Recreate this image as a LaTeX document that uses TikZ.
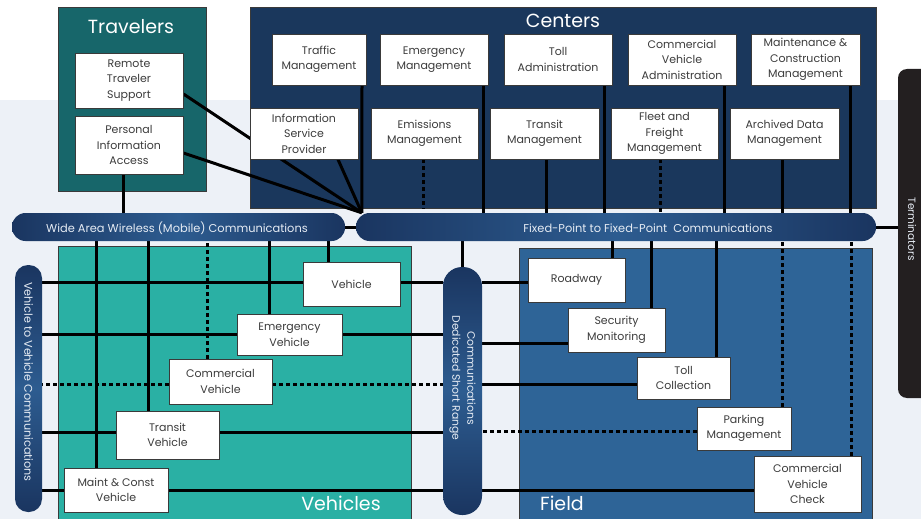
\documentclass[tikz,border=0pt]{standalone}
\usepackage{fontspec}
\setmainfont{Poppins}
\usetikzlibrary{calc}
\pgfdeclarelayer{bg}
\pgfdeclarelayer{wires}
\pgfsetlayers{bg,wires,main}
\definecolor{travc}{HTML}{17666A}
\definecolor{ctrc}{HTML}{1A375C}
\definecolor{vehc}{HTML}{2AB0A4}
\definecolor{fieldc}{HTML}{2E6497}
\definecolor{bardark}{HTML}{1A3560}
\definecolor{barlight}{HTML}{2D5C90}
\definecolor{termc}{HTML}{231F20}
\definecolor{bgblue}{HTML}{EDF1F7}
\definecolor{boxtext}{HTML}{3C3C3C}
\definecolor{edgec}{HTML}{3A3A3A}
\definecolor{bartext}{HTML}{E6ECF4}
\newcommand\bxf{\fontsize{11}{15.5}\selectfont}
\newcommand\ttf{\fontsize{19}{22}\selectfont}
\newcommand\brf{\fontsize{11.4}{13}\selectfont}
\begin{document}
\begin{tikzpicture}[x=1pt,y=-1pt,
  sec/.style={draw=edgec, line width=1pt, inner sep=0pt},
  wbox/.style={draw=edgec, line width=0.9pt, fill=white, text=boxtext, align=center, inner sep=1pt, font=\bxf},
  wh/.style 2 args={minimum width=#1, minimum height=#2},
  title/.style={text=white, font=\ttf, inner sep=0pt},
  hbar/.style={draw=none, left color=bardark, right color=bardark, middle color=barlight, text=bartext, font=\brf, inner sep=0pt, rounded corners=13.5pt},
  vbar/.style={draw=none, top color=bardark, bottom color=bardark, middle color=barlight, inner sep=0pt},
  barlabel/.style={text=bartext, inner sep=0pt},
  wire/.style={line width=3pt, black},
  dots/.style={wire, dash pattern=on 4pt off 3pt}]
\useasboundingbox (0,0) rectangle (921,519);
\clip (0,0) rectangle (921,519);

\begin{pgfonlayer}{bg}
\fill[bgblue] (0,100) rectangle (921,519);
\node[sec, fill=travc, wh={148}{183}] (Trav) at (132,99.5) {};
\node[sec, fill=ctrc, wh={626}{200}] (Ctr) at (563,108) {};
\node[sec, fill=vehc, wh={353}{279}] (Vehs) at (234.5,385.5) {};
\node[sec, fill=fieldc, wh={353}{277}] (Fld) at (695.5,386.5) {};
\node[draw=none, fill=termc, rounded corners=9pt, wh={37}{329}, inner sep=0pt] (Term) at (916.5,233.5) {};
\end{pgfonlayer}

% titles
\node[title] (travT) at (131,27) {Travelers};
\node[title] (ctrT) at (563,21) {Centers};
\node[title] (vehT) at (341,503) {Vehicles};
\node[title] (fldT) at (562,503) {Field};
\node[barlabel, font=\fontsize{10.5}{13}\selectfont, rotate=-90] (termT) at (912,229) {Terminators};

% bars
\node[hbar, wh={333}{28}] (WA) at (178.5,227) {};
\node[barlabel, font=\brf] (WAT) at (177,228) {Wide Area Wireless (Mobile) Communications};
\node[hbar, wh={520}{28}] (FP) at (616,227) {};
\node[barlabel, font=\brf] (FPT) at (648,228) {Fixed-Point to Fixed-Point\ \ Communications};
\node[vbar, rounded corners=13pt, wh={27}{247}] (V2V) at (28.5,388.5) {};
\node[barlabel, font=\fontsize{11.2}{13}\selectfont, rotate=-90] (V2VT) at (28.5,382) {Vehicle to Vehicle Communications};
\node[vbar, rounded corners=19pt, wh={39}{248}] (DSRC) at (462.5,391) {};
\node[barlabel, font=\fontsize{10.8}{15}\selectfont, rotate=-90, align=center] (DSRCT) at (462.5,378) {Communications\\Dedicated Short Range};

\coordinate (conv) at ([xshift=6]FP.north west);

% travelers boxes
\node[wbox, wh={108}{55}] (RTS) at (129,80.5) {Remote\\Traveler\\Support};
\node[wbox, wh={108}{58}] (PIA) at (129,145) {Personal\\Information\\Access};

% centers boxes
\node[wbox, wh={94}{51}] (TM) at (319,59.5) {Traffic\\Management};
\node[wbox, wh={108}{51}] (EM) at (434,59.5) {Emergency\\Management};
\node[wbox, wh={108}{51}] (TA) at (558,59.5) {Toll\\Administration};
\node[wbox, wh={108}{51}] (CVA) at (682,59.5) {Commercial\\Vehicle\\Administration};
\node[wbox, wh={109}{51}] (MCM) at (805.5,59.5) {Maintenance \&\\Construction\\Management};
\node[wbox, wh={108}{51}] (ISP) at (304,133.5) {Information\\Service\\Provider};
\node[wbox, wh={107}{51}] (EmM) at (424.5,133.5) {Emissions\\Management};
\node[wbox, wh={109}{51}] (TrM) at (544.5,133.5) {Transit\\Management};
\node[wbox, wh={107}{51}] (FFM) at (664.5,133.5) {Fleet and\\Freight\\Management};
\node[wbox, wh={109}{51}] (ADM) at (784.5,133.5) {Archived Data\\Management};

% vehicles boxes
\node[wbox, wh={97}{44}] (Veh) at (351.5,284) {Vehicle};
\node[wbox, wh={105}{41}] (EV) at (289.5,334.5) {Emergency\\Vehicle};
\node[wbox, wh={103}{45}] (CV) at (220.5,381.5) {Commercial\\Vehicle};
\node[wbox, wh={103}{48}] (TV) at (167.5,435) {Transit\\Vehicle};
\node[wbox, wh={104}{44}] (MCV) at (116,490) {Maint \& Const\\Vehicle};

% field boxes
\node[wbox, wh={97}{44}] (Road) at (576.5,280) {Roadway};
\node[wbox, wh={97}{44}] (SM) at (616.5,330) {Security\\Monitoring};
\node[wbox, wh={93}{42}] (TC) at (683.5,378) {Toll\\Collection};
\node[wbox, wh={94}{43}] (PM) at (744,428.5) {Parking\\Management};
\node[wbox, wh={107}{56}] (CVC) at (807.5,484) {Commercial\\Vehicle\\Check};

\begin{pgfonlayer}{wires}
% centers to fixed-point
\draw[wire] ([xshift=43]TM.south) -- (conv);
\draw[wire] ([xshift=49]EM.south) -- ([xshift=49]EM.south |- FP.north);
\draw[wire] ([xshift=46]TA.south) -- ([xshift=46]TA.south |- FP.north);
\draw[wire] ([xshift=42]CVA.south) -- ([xshift=42]CVA.south |- FP.north);
\draw[wire] ([xshift=44.5]MCM.south) -- ([xshift=44.5]MCM.south |- FP.north);
\draw[dots] ([xshift=-1.5]EmM.south) -- ([xshift=-1.5]EmM.south |- Ctr.south);
\draw[wire] ([xshift=1.5]TrM.south) -- ([xshift=1.5]TrM.south |- FP.north);
\draw[dots] ([xshift=-4.5]FFM.south) -- ([xshift=-4.5]FFM.south |- FP.north);
\draw[wire] ([xshift=-2.5]ADM.south) -- ([xshift=-2.5]ADM.south |- FP.north);
\draw[wire] ([xshift=34]ISP.south) -- (conv);
\draw[wire] ([yshift=-13.5]RTS.east) -- (conv);
\draw[wire] ([yshift=-8]PIA.east) -- (conv);
\draw[wire] ([xshift=-6]PIA.south) -- ([xshift=-6]PIA.south |- WA.north);
\draw[wire] (WA.east) -- (FP.west);
\draw[wire] (FP.east) -- (FP.east -| Term.west);
% wide area to vehicles
\draw[wire] ([xshift=-19.5]MCV.north) -- ([xshift=-19.5]MCV.north |- WA.south);
\draw[wire] ([xshift=-19.5]TV.north) -- ([xshift=-19.5]TV.north |- WA.south);
\draw[dots] ([xshift=-13.5]CV.north) -- ([xshift=-13.5]CV.north |- WA.south);
\draw[wire] ([xshift=-20.5]EV.north) -- ([xshift=-20.5]EV.north |- WA.south);
\draw[wire] ([xshift=-23]Veh.north) -- ([xshift=-23]Veh.north |- WA.south);
% vehicle to vehicle and dsrc
\draw[wire] ([yshift=2]Veh.west) -- ([yshift=2]Veh.west -| V2V.east);
\draw[wire] ([yshift=2]Veh.east) -- ([yshift=2]Veh.east -| DSRC.west);
\draw[wire] (EV.west) -- (EV.west -| V2V.east);
\draw[wire] (EV.east) -- (EV.east -| DSRC.west);
\draw[dots] ([yshift=-2.5]CV.west) -- ([yshift=-2.5]CV.west -| V2V.east);
\draw[dots] ([yshift=-2.5]CV.east) -- ([yshift=-2.5]CV.east -| DSRC.west);
\draw[wire] ([yshift=3]TV.west) -- ([yshift=3]TV.west -| V2V.east);
\draw[wire] ([yshift=3]TV.east) -- ([yshift=3]TV.east -| DSRC.west);
\draw[wire] (MCV.west) -- (MCV.west -| V2V.east);
\draw[wire] (MCV.east) -- (MCV.east -| DSRC.west);
% dsrc to field
\draw[wire] ([yshift=-2]Road.west) -- ([yshift=-2]Road.west -| DSRC.east);
\draw[wire] ([yshift=-13]SM.west) -- ([yshift=-13]SM.west -| DSRC.east);
\draw[wire] ([yshift=-6]TC.west) -- ([yshift=-6]TC.west -| DSRC.east);
\draw[dots] ([yshift=-2.5]PM.west) -- ([yshift=-2.5]PM.west -| DSRC.east);
\draw[wire] ([yshift=-6]CVC.west) -- ([yshift=-6]CVC.west -| DSRC.east);
% fixed-point to field
\draw[wire] (DSRC.north) -- (DSRC.north |- FP.south);
\draw[wire] ([xshift=35.5]Road.north) -- ([xshift=35.5]Road.north |- FP.south);
\draw[wire] ([xshift=34.5]SM.north) -- ([xshift=34.5]SM.north |- FP.south);
\draw[wire] ([xshift=33]TC.north) -- ([xshift=33]TC.north |- FP.south);
\draw[dots] ([xshift=38]PM.north) -- ([xshift=38]PM.north |- FP.south);
\draw[dots] ([xshift=43.5]CVC.north) -- ([xshift=43.5]CVC.north |- FP.south);
\end{pgfonlayer}
\end{tikzpicture}
\end{document}
